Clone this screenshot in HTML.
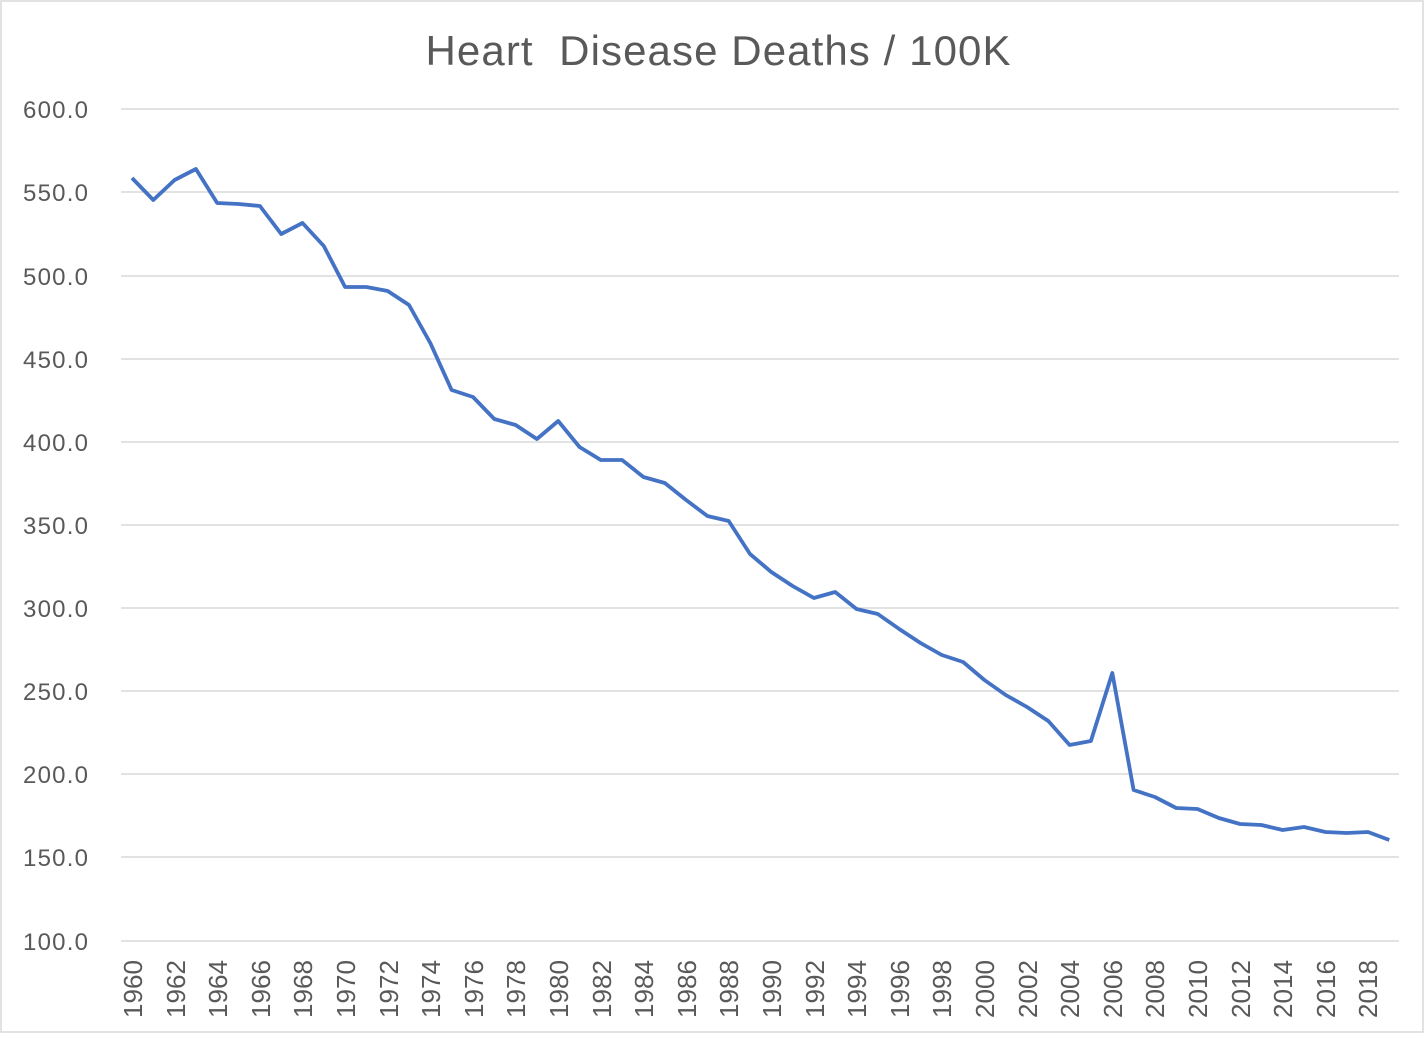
<!DOCTYPE html>
<html><head><style>body{margin:0;background:#fff}</style></head><body>
<svg width="1424" height="1034" xmlns="http://www.w3.org/2000/svg" font-family="Liberation Sans, sans-serif">
<rect x="1" y="1" width="1422" height="1031" fill="#fff" stroke="#d9d9d9" stroke-width="1.5"/>
<text x="718" y="65" text-anchor="middle" font-size="42" fill="#595959" textLength="585" xml:space="preserve">Heart  Disease Deaths / 100K</text>
<g stroke="#d9d9d9" stroke-width="1.5">
<line x1="121" x2="1399" y1="109" y2="109"/><line x1="121" x2="1399" y1="192" y2="192"/><line x1="121" x2="1399" y1="276" y2="276"/><line x1="121" x2="1399" y1="359" y2="359"/><line x1="121" x2="1399" y1="442" y2="442"/><line x1="121" x2="1399" y1="525" y2="525"/><line x1="121" x2="1399" y1="608" y2="608"/><line x1="121" x2="1399" y1="691" y2="691"/><line x1="121" x2="1399" y1="774" y2="774"/><line x1="121" x2="1399" y1="857" y2="857"/><line x1="121" x2="1399" y1="941" y2="941"/>
</g>
<g font-size="24" fill="#595959">
<text x="23" y="118" textLength="65">600.0</text><text x="23" y="201" textLength="65">550.0</text><text x="23" y="285" textLength="65">500.0</text><text x="23" y="368" textLength="65">450.0</text><text x="23" y="451" textLength="65">400.0</text><text x="23" y="534" textLength="65">350.0</text><text x="23" y="617" textLength="65">300.0</text><text x="23" y="700" textLength="65">250.0</text><text x="23" y="783" textLength="65">200.0</text><text x="23" y="866" textLength="65">150.0</text><text x="23" y="950" textLength="65">100.0</text>
</g>
<g font-size="26" fill="#595959">
<text transform="translate(142,1018) rotate(-90)" textLength="58">1960</text>
<text transform="translate(185,1018) rotate(-90)" textLength="58">1962</text>
<text transform="translate(227,1018) rotate(-90)" textLength="58">1964</text>
<text transform="translate(270,1018) rotate(-90)" textLength="58">1966</text>
<text transform="translate(312,1018) rotate(-90)" textLength="58">1968</text>
<text transform="translate(355,1018) rotate(-90)" textLength="58">1970</text>
<text transform="translate(398,1018) rotate(-90)" textLength="58">1972</text>
<text transform="translate(440,1018) rotate(-90)" textLength="58">1974</text>
<text transform="translate(483,1018) rotate(-90)" textLength="58">1976</text>
<text transform="translate(525,1018) rotate(-90)" textLength="58">1978</text>
<text transform="translate(568,1018) rotate(-90)" textLength="58">1980</text>
<text transform="translate(611,1018) rotate(-90)" textLength="58">1982</text>
<text transform="translate(653,1018) rotate(-90)" textLength="58">1984</text>
<text transform="translate(696,1018) rotate(-90)" textLength="58">1986</text>
<text transform="translate(738,1018) rotate(-90)" textLength="58">1988</text>
<text transform="translate(781,1018) rotate(-90)" textLength="58">1990</text>
<text transform="translate(824,1018) rotate(-90)" textLength="58">1992</text>
<text transform="translate(866,1018) rotate(-90)" textLength="58">1994</text>
<text transform="translate(909,1018) rotate(-90)" textLength="58">1996</text>
<text transform="translate(951,1018) rotate(-90)" textLength="58">1998</text>
<text transform="translate(994,1018) rotate(-90)" textLength="58">2000</text>
<text transform="translate(1037,1018) rotate(-90)" textLength="58">2002</text>
<text transform="translate(1079,1018) rotate(-90)" textLength="58">2004</text>
<text transform="translate(1122,1018) rotate(-90)" textLength="58">2006</text>
<text transform="translate(1164,1018) rotate(-90)" textLength="58">2008</text>
<text transform="translate(1207,1018) rotate(-90)" textLength="58">2010</text>
<text transform="translate(1250,1018) rotate(-90)" textLength="58">2012</text>
<text transform="translate(1292,1018) rotate(-90)" textLength="58">2014</text>
<text transform="translate(1335,1018) rotate(-90)" textLength="58">2016</text>
<text transform="translate(1377,1018) rotate(-90)" textLength="58">2018</text>
</g>
<polyline fill="none" stroke="#4472c4" stroke-width="3.8" stroke-linejoin="round" id="ln" points=""/>
<script>
var ys=[178,200,180,169,203,204,206,234,223,246,287,287,291,305,343,390,397,419,425,439,421,447,460,460,477,483,500,516,521,554,572,586,598,592,609,614,629,643,655,662,680,695,707,721,745,741,673,790,797,808,809,818,824,825,830,827,832,833,832,840];
var pts=[];
for(var i=0;i<60;i++){var x=132+i*21.31;pts.push(x.toFixed(1)+','+ys[i]);}
document.getElementById('ln').setAttribute('points',pts.join(' '));
</script>
</svg>
</body></html>
